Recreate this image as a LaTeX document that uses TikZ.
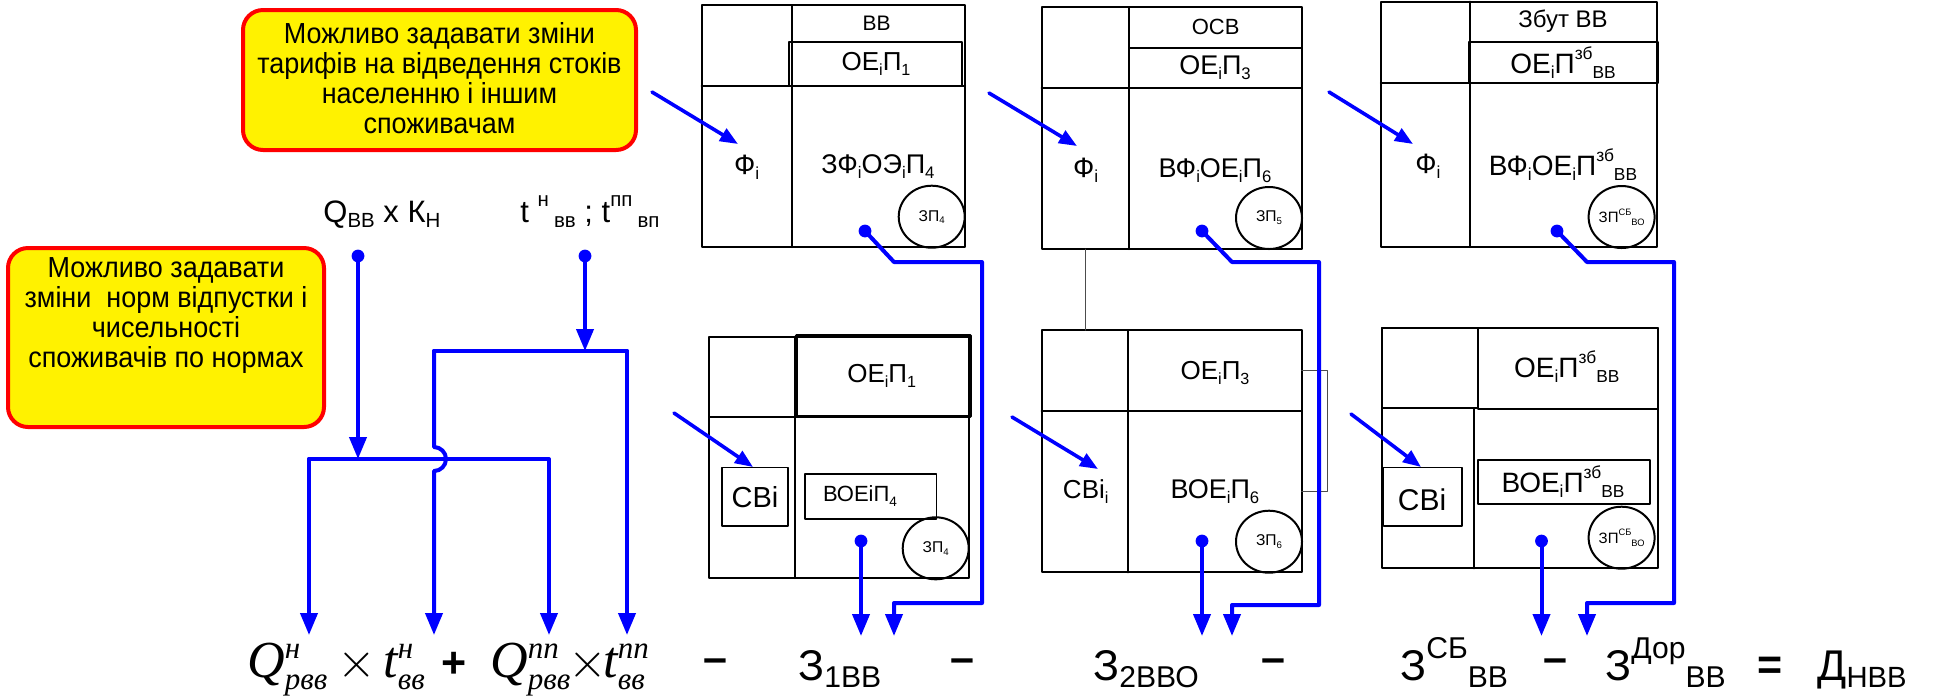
\documentclass[tikz,border=0pt]{standalone}
\usepackage{fontspec}
\usepackage{amsmath}
\setmainfont{Liberation Sans}
\newfontfamily\narrowfont[FakeStretch=0.93]{Liberation Sans}
\newfontfamily\timesfont{Liberation Serif}
\usetikzlibrary{arrows.meta}
\DeclareMathSizes{26}{26}{15.5}{11}
\newcommand{\sz}[1]{\fontsize{#1}{#1}\selectfont}
\newcommand{\lsub}[2][0.62]{\raisebox{-0.35ex}{\scalebox{#1}{#2}}}
\newcommand{\lsup}[2][0.62]{\raisebox{0.95ex}{\scalebox{#1}{#2}}}
\newcommand{\qterm}[1]{{\timesfont\itshape Q${}^{\text{#1}}_{\text{рвв}}$}}
\newcommand{\tterm}[1]{{\timesfont\itshape t${}^{\text{#1}}_{\text{вв}}$}}

\tikzset{
	box/.style={draw, line width=1pt},
	thin/.style={draw=black!70, line width=0.5pt},
	flow/.style={draw=blue, line width=2pt},
	tip/.style={-{Triangle[length=11pt,width=8.5pt]}},
	tipb/.style={line width=1.8pt, -{Triangle[length=9pt,width=7pt]}},
	note/.style={draw=red, line width=2pt, fill=yellow, rounded corners=10pt},
	lbl/.style={inner sep=0pt, font=\sz{13.5}},
	small/.style={inner sep=0pt, font=\sz{11.5}},
	tiny/.style={inner sep=0pt, font=\sz{7.8}},
	form/.style={inner sep=0pt, font=\sz{26}},
	big/.style={inner sep=0pt, font=\sz{21.5}, anchor=base west},
	sign/.style={inner sep=0pt, font=\bfseries\sz{21.5}}
}

\begin{document}
\begin{tikzpicture}[x=0.5pt, y=-0.5pt, line cap=round, line join=round]
	\useasboundingbox (0,0) rectangle (1936,698);

	% callouts
	\node[note, minimum width=196.5pt, minimum height=70pt] (note1) at (439.5,80) {};
	\node[align=center, font=\narrowfont\fontsize{14.5}{15}\selectfont] (note1txt) at (439.5,78)
		{Можливо задавати зміни\\тарифів на відведення стоків\\населенню і іншим\\споживачам};
	\node[note, minimum width=158pt, minimum height=89.5pt] (note2) at (166,337.5) {};
	\node[align=center, anchor=north, inner sep=0pt, font=\narrowfont\fontsize{14.5}{15}\selectfont] (note2txt) at (166,257)
		{Можливо задавати\\зміни\ \ норм відпустки і\\чисельності\\споживачів по нормах};

	% upper tables
	\draw[box] (701.7,5) rectangle (965,247);
	\draw[box] (791.7,5) -- (791.7,247) (701.7,86) -- (965,86);
	\draw[box] (789,41.7) rectangle (961.7,86);
	\draw[box] (931.7,216.7) ellipse (16.5pt and 15.5pt);
	\draw[box] (1041.7,7.3) rectangle (1301.7,249);
	\draw[box] (1129,7.3) -- (1129,249) (1041.7,88) -- (1301.7,88) (1129,47.7) -- (1301.7,47.7);
	\draw[box] (1269,218) ellipse (16.5pt and 15.5pt);
	\draw[box] (1380.8,1.7) rectangle (1657,247);
	\draw[box] (1470.4,1.7) -- (1470.4,247) (1380.8,83) -- (1657,83);
	\draw[box] (1469.3,41.7) rectangle (1657.7,83);
	\draw[box] (1621.6,217) ellipse (16.5pt and 15.5pt);

	% lower tables
	\draw[box] (709,336.7) rectangle (969,578);
	\draw[box] (795,336.7) -- (795,578) (709,417) -- (969,417);
	\draw[box, line width=1.5pt] (796.7,335.3) rectangle (970,416);
	\draw[box, line width=0.7pt] (722,467.7) rectangle (788,526);
	\draw[box, line width=0.7pt] (805,474) rectangle (936.7,519);
	\draw[box] (935.7,548.3) ellipse (16.5pt and 15.5pt);
	\draw[box] (1041.7,330) rectangle (1301.7,572.3);
	\draw[box] (1128.3,330) -- (1128.3,572.3) (1041.7,410.7) -- (1301.7,410.7);
	\draw[box] (1269,541.7) ellipse (16.5pt and 15.5pt);
	\draw[box] (1381.6,328.3) rectangle (1657.7,568.3);
	\draw[box] (1381.6,328.3) rectangle (1478,408.3);
	\draw[box] (1477.6,328.3) rectangle (1657.7,409);
	\draw[box] (1473.6,408.3) -- (1473.6,568.3);
	\draw[box, line width=0.7pt] (1383.7,467.7) rectangle (1462,526);
	\draw[box] (1477.6,460) rectangle (1649.8,504.3);
	\draw[box] (1621.6,537.7) ellipse (16.5pt and 15.5pt);
	\draw[thin] (1085,249) -- (1085,330);
	\draw[thin] (1301.7,370.7) -- (1327.3,370.7) -- (1327.3,491.7) -- (1301.7,491.7);

	% labels in the tables
	\node[small, font=\sz{10.5}] (vv) at (876.7,23) {ВВ};
	\node[lbl, font=\sz{13}] (oep1) at (876,64) {ОЕ\lsub{і}П\lsub{1}};
	\node[lbl, font=\sz{14}] (fi1) at (746.7,167) {Ф\lsub{і}};
	\node[lbl] (zfi) at (878,167) {ЗФ\lsub{і}ОЭ\lsub{і}П\lsub{4}};
	\node[tiny] (zp4) at (931.7,217) {ЗП\lsub{4}};
	\node[small, font=\sz{11}] (osv) at (1215.7,27) {ОСВ};
	\node[lbl] (oep3) at (1215,68) {ОЕ\lsub{і}П\lsub{3}};
	\node[lbl, font=\sz{14}] (fi2) at (1085.7,170) {Ф\lsub{і}};
	\node[lbl] (vfi6) at (1215,170.7) {ВФ\lsub{і}ОЕ\lsub{і}П\lsub{6}};
	\node[tiny] (zp5) at (1269,218) {ЗП\lsub{5}};
	\node[small, font=\sz{12}] (zbut) at (1563,21) {Збут ВВ};
	\node[lbl, font=\sz{14}] (oepzb) at (1563,63) {ОЕ\lsub{і}П\lsup{зб}\lsub{ВВ}};
	\node[lbl, font=\sz{14}] (fi3) at (1427.8,166) {Ф\lsub{і}};
	\node[lbl, font=\sz{14}] (vfizb) at (1563,165) {ВФ\lsub{і}ОЕ\lsub{і}П\lsup{зб}\lsub{ВВ}};
	\node[tiny, font=\sz{7.5}] (zpsb) at (1621.6,217) {ЗП\lsup{СБ}\lsub{ВО}};
	\node[lbl, font=\sz{13}] (oep1b) at (881.7,376) {ОЕ\lsub{і}П\lsub{1}};
	\node[lbl, font=\sz{14.5}] (svi1) at (755,497) {СВі};
	\node[small, font=\sz{11}] (voe4) at (860,496) {ВОЕіП\lsub{4}};
	\node[tiny] (zp4b) at (935.7,548.3) {ЗП\lsub{4}};
	\node[lbl, font=\sz{13}] (oep3b) at (1215,373.3) {ОЕ\lsub{і}П\lsub{3}};
	\node[lbl, font=\sz{13}] (svi2) at (1085.7,491.7) {СВі\lsub{і}};
	\node[lbl] (voe6) at (1215,491.7) {ВОЕ\lsub{і}П\lsub{6}};
	\node[tiny] (zp6) at (1269,541.7) {ЗП\lsub{6}};
	\node[lbl, font=\sz{14}] (oepzbb) at (1566.8,366.7) {ОЕ\lsub{і}П\lsup{зб}\lsub{ВВ}};
	\node[lbl, font=\sz{15}] (svi3) at (1422,500) {СВі};
	\node[lbl, font=\sz{14}] (voezb) at (1563,481.7) {ВОЕ\lsub{і}П\lsup{зб}\lsub{ВВ}};
	\node[tiny, font=\sz{7.5}] (zpsbb) at (1621.6,537.7) {ЗП\lsup{СБ}\lsub{ВО}};

	% inputs
	\node[inner sep=0pt, font=\sz{15.5}, anchor=base west] (qin) at (323,222) {Q\lsub[0.66]{ВВ} x К\lsub[0.66]{Н}};
	\node[inner sep=0pt, font=\sz{15.5}, anchor=base west] (tin) at (520,222)
		{t\ \lsup[0.66]{н}\,\lsub[0.66]{вв}\ ;\ t\lsup[0.66]{пп}\,\lsub[0.66]{вп}};

	% formula
	\node[form, anchor=base west] (fq1) at (247,677) {\qterm{н}};
	\node[form, anchor=base] (fx1) at (357,677) {\makebox[0pt]{$\times$}};
	\node[form, anchor=base west] (ft1) at (383,677) {\tterm{н}};
	\node[sign, anchor=base] (fplus) at (454,677) {\makebox[0pt]{+}};
	\node[form, anchor=base west] (fq2) at (490,677) {\qterm{пп}};
	\node[form, anchor=base] (fx2) at (588,677) {\makebox[0pt]{$\times$}};
	\node[form, anchor=base west] (ft2) at (603,677) {\tterm{пп}};
	\node[sign] (m1) at (715,666) {–};
	\node[big] (z1) at (798,680) {З\lsub[0.7]{1ВВ}};
	\node[sign] (m2) at (962,666) {–};
	\node[big] (z2) at (1093,680) {З\lsub[0.7]{2ВВО}};
	\node[sign] (m3) at (1273,666) {–};
	\node[big] (z3) at (1400,680) {З\lsup[0.7]{СБ}\lsub[0.7]{ВВ}};
	\node[sign] (m4) at (1555,666) {–};
	\node[big] (z4) at (1605,680) {З\lsup[0.7]{Дор}\lsub[0.7]{ВВ}};
	\node[sign] (eq) at (1770,668) {=};
	\node[big] (dd) at (1817,680) {Д\lsub[0.68]{НВВ}};

	% connectors on the left
	\coordinate (tips) at (0,635);
	\coordinate (qdot) at (358,256);
	\coordinate (qjoin) at (358,459);
	\coordinate (tdot) at (585,256);
	\coordinate (tjoin) at (585,351);
	\coordinate (la) at (309,459);
	\coordinate (lb) at (549,459);
	\coordinate (ra) at (434,351);
	\coordinate (rb) at (627,351);
	\fill[blue] (qdot) circle (3.2pt) (tdot) circle (3.2pt);
	\draw[flow, tip] (qdot) -- (qjoin);
	\draw[flow, tip] (tdot) -- (tjoin);
	\draw[flow, tip] (la) -- (lb) -- (lb |- tips);
	\draw[flow, tip] (ra) -- (434,447) arc[start angle=90, end angle=-90, radius=6pt] -- (ra |- tips);
	\draw[flow] (ra) -- (rb);
	\draw[flow, tip] (rb) -- (rb |- tips);
	\draw[flow, tip] (la) -- (la |- tips);

	% connectors from the tables
	\foreach \d/\k/\r/\s/\e in {865/894/982/603/861, 1202/1232/1319/605/1202, 1557/1587/1674/603/1541.5}{
		\fill[blue] (\d,231) circle (3.2pt) (\e,541) circle (3.2pt);
		\draw[flow, tip] (\d,231) -- (\k,262) -- (\r,262) -- (\r,\s) -- (\k,\s) -- (\k,636);
		\draw[flow, tip] (\e,541) -- (\e,636);
	}

	% arrows from the notes
	\coordinate (a1) at (652,92);   \coordinate (b1) at (738,144);
	\coordinate (a2) at (989,93);   \coordinate (b2) at (1077,146);
	\coordinate (a3) at (1329,92);  \coordinate (b3) at (1413,144);
	\coordinate (a4) at (674,413);  \coordinate (b4) at (753,467);
	\coordinate (a5) at (1012,417); \coordinate (b5) at (1098,469);
	\coordinate (a6) at (1351,414); \coordinate (b6) at (1421,467);
	\foreach \i in {1,...,6}
		\draw[flow, tipb] (a\i) -- (b\i);
\end{tikzpicture}
\end{document}
